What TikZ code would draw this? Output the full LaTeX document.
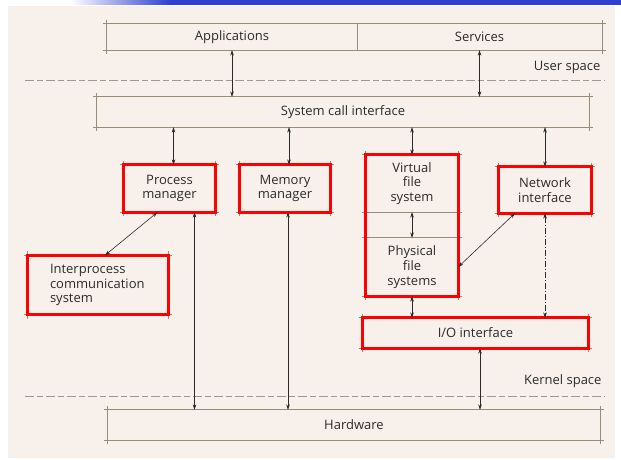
\documentclass[tikz,border=0pt]{standalone}
\usepackage{fontspec}
\setmainfont{Open Sans}
\usetikzlibrary{arrows.meta}
\definecolor{panel}{HTML}{F8F1EB}
\definecolor{edge}{HTML}{9A8A78}
\definecolor{ink}{HTML}{2B2B2B}
\definecolor{hl}{HTML}{FF0000}
\definecolor{band}{HTML}{2F3FD0}
\tikzset{
  x=1pt, y=-1pt,
  every node/.style={font=\fontsize{13}{14.8}\selectfont, text=ink},
  layer/.style={rectangle, inner sep=0pt, align=center},
  frame/.style={draw=edge, line width=0.9pt},
  tick/.style={edge, line width=0.9pt, shorten <=-4pt, shorten >=-4pt},
  mark red/.style={draw=hl, line width=3pt},
  link/.style={<->, >={Stealth[length=5.5pt,width=3.6pt]}, draw=ink, line width=0.6pt},
  boundary/.style={draw=gray!80, line width=1pt, dash pattern=on 9pt off 3pt on 6pt off 3pt},
}
\newcommand\tickedbox[1]{%
  \draw[tick] (#1.north west) -- (#1.north east);
  \draw[tick] (#1.south west) -- (#1.south east);
  \draw[tick] (#1.north west) -- (#1.south west);
  \draw[tick] (#1.north east) -- (#1.south east);}
\begin{document}
\begin{tikzpicture}
% canvas
\useasboundingbox (0,0) rectangle (621,460);
\fill[white] (0,0) rectangle (621,460);
\fill[panel] (8,6) rectangle (615,458);
\shade[left color=white, right color=band] (70,0) rectangle (170,5);
\fill[band] (170,0) rectangle (621,5);

% user level
\node[layer, minimum width=250, minimum height=26] (apps) at (232,37) {Applications};
\node[layer, minimum width=245, minimum height=26] (svc) at (479.5,37) {Services};
\node[anchor=east] (user) at (604,67) {User space};
\coordinate (ul) at (25,80);
\coordinate (ur) at (605,80);
\draw[boundary] (ul) -- (ur);

% system call layer
\node[layer, minimum width=492, minimum height=30] (sys) at (343,112) {System call interface};

% kernel subsystems
\node[layer, minimum width=91, minimum height=47] (proc) at (169.5,188.5) {Process\\manager};
\node[layer, minimum width=90, minimum height=47] (mem) at (285,188.5) {Memory\\manager};
\node[layer, minimum width=92, minimum height=57] (vfs) at (412,183.5) {Virtual\\file\\system};
\node[layer, minimum width=92, minimum height=58] (pfs) at (412,267) {Physical\\file\\systems};
\node[layer, minimum width=92, minimum height=46] (net) at (545,190) {Network\\interface};
\node[layer, minimum width=140, minimum height=59, align=left, text width=96] (ipc) at (98,285) {Interprocess\\communication\\system};
\node[layer, minimum width=225, minimum height=30] (io) at (475.5,333) {I/O interface};

% kernel boundary
\node[anchor=east] (kern) at (605,381) {Kernel space};
\coordinate (kl) at (25,396);
\coordinate (kr) at (605,396);
\draw[boundary] (kl) -- (kr);

% hardware
\node[layer, minimum width=492, minimum height=30] (hw) at (354,425) {Hardware};

% box outlines with extended corner ticks
\draw[frame] (apps.north east) -- (apps.south east);
\tickedbox{sys}
\tickedbox{proc}
\tickedbox{mem}
\tickedbox{vfs}
\tickedbox{pfs}
\tickedbox{net}
\tickedbox{ipc}
\tickedbox{io}
\tickedbox{hw}
\draw[tick] (apps.north west) -- (svc.north east);
\draw[tick] (apps.south west) -- (svc.south east);
\draw[tick] (apps.north west) -- (apps.south west);
\draw[tick] (svc.north east) -- (svc.south east);

% highlighted components
\draw[mark red] (proc.north west) rectangle (proc.south east);
\draw[mark red] (mem.north west) rectangle (mem.south east);
\draw[mark red] (vfs.north west) rectangle (pfs.south east);
\draw[mark red] (net.north west) rectangle (net.south east);
\draw[mark red] (ipc.north west) rectangle (ipc.south east);
\draw[mark red] (io.north west) rectangle (io.south east);

% connections
\draw[link] (apps.south) -- (apps.south |- sys.north);
\draw[link] (svc.south) -- (svc.south |- sys.north);
\draw[link] ([xshift=4]proc.north |- sys.south) -- ([xshift=4]proc.north);
\draw[link] ([xshift=4]mem.north |- sys.south) -- ([xshift=4]mem.north);
\draw[link] (vfs.north |- sys.south) -- (vfs.north);
\draw[link] (net.north |- sys.south) -- (net.north);
\draw[link] ([xshift=-12]proc.south) -- ([xshift=7]ipc.north);
\draw[link] ([xshift=25]proc.south) -- ([xshift=25]proc.south |- hw.north);
\draw[link] ([xshift=3]mem.south) -- ([xshift=3]mem.south |- hw.north);
\draw[link] (vfs.south) -- (pfs.north);
\draw[link] (pfs.east) -- ([xshift=-30]net.south);
\draw[link] (pfs.south) -- (pfs.south |- io.north);
\draw[link, dash pattern=on 6pt off 2pt on 1pt off 2pt] (net.south) -- (net.south |- io.north);
\draw[link] ([xshift=4.5]io.south) -- ([xshift=4.5]io.south |- hw.north);
\end{tikzpicture}
\end{document}
